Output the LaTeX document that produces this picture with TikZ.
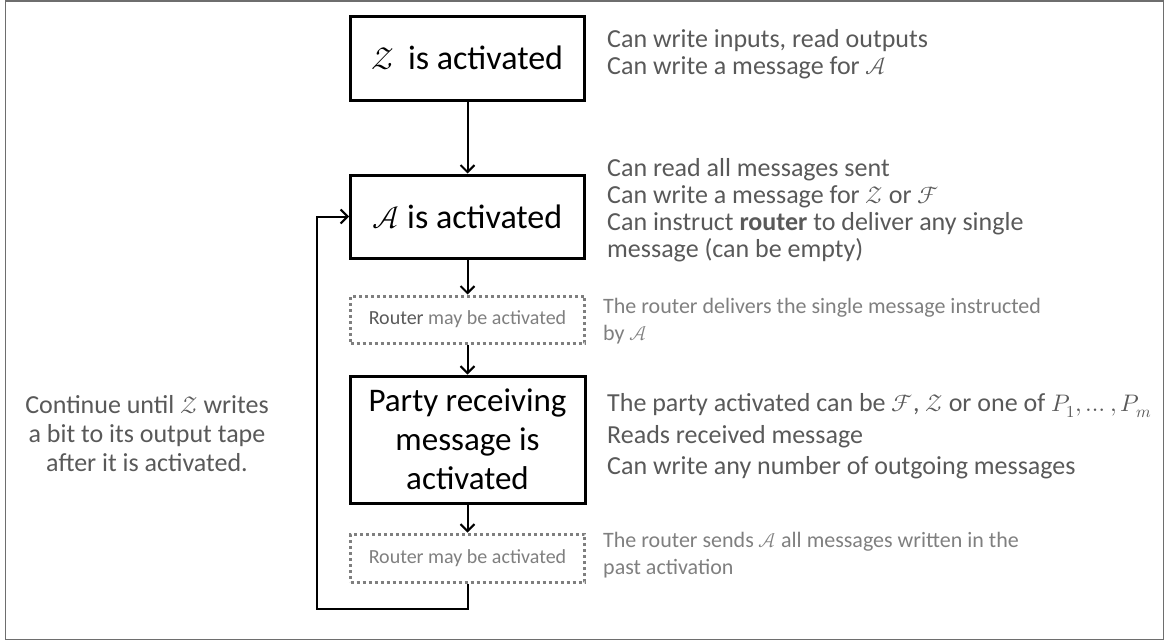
\documentclass[tikz,border=0pt]{standalone}
\usepackage{fontspec}
\usepackage{unicode-math}
\setmainfont{Carlito}
\setmathfont{latinmodern-math.otf}[Scale=0.92]
\usetikzlibrary{arrows.meta}
\definecolor{txtdark}{RGB}{89,89,89}
\definecolor{txtlight}{RGB}{127,127,127}
\definecolor{framegray}{RGB}{110,110,110}
\begin{document}
\begin{tikzpicture}[x=1pt,y=-1pt,
 mainbox/.style={draw=black, line width=3pt, minimum width=234pt, inner sep=0pt, align=center, font=\fontsize{34}{40}\selectfont},
 routerbox/.style={draw=txtlight, line width=3pt, dash pattern=on 3pt off 3pt, minimum width=234pt, minimum height=47pt, inner sep=0pt, text=txtlight, font=\fontsize{20}{24}\selectfont},
 flow/.style={draw=black, line width=2pt, -{Straight Barb[length=7pt,width=14pt]}},
 note/.style={anchor=west, align=left, inner sep=0pt, text=txtdark, font=\fontsize{26}{27}\selectfont},
 smallnote/.style={anchor=west, align=left, inner sep=0pt, text=txtlight, font=\fontsize{22}{27}\selectfont},
]
\useasboundingbox (0,0) rectangle (1165,640);
\draw[framegray, line width=1.5pt] (5.5,0.75) rectangle (1163.25,639.25);

\node[mainbox, minimum height=84pt] (Z) at (467.5,58) {$\mathcal{Z}$\, is activated};
\node[mainbox, minimum height=83pt] (A) at (467.5,216.5) {$\mathcal{A}$ is activated};
\node[routerbox] (R1) at (467.5,319.5) {\textcolor{txtdark}{Router} may be activated};
\node[mainbox, minimum width=235pt, minimum height=127pt, font=\fontsize{33}{39}\selectfont] (P) at (467.5,439.5) {Party receiving\\message is\\activated};
\node[routerbox, minimum height=48pt] (R2) at (467.5,558) {Router may be activated};

\draw[flow] (Z) -- (A);
\draw[flow] (A) -- (R1);
\draw[flow] (R1) -- (P);
\draw[flow] (P) -- (R2);
\coordinate (lb) at (317,609);
\draw[flow] (R2.south) |- (lb) |- (A.west);

\node[note] (tz) at (607,54) {Can write inputs, read outputs\\Can write a message for $\mathcal{A}$};
\node[note] (ta) at (607,210) {Can read all messages sent\\Can write a message for $\mathcal{Z}$ or $\mathcal{F}$\\Can instruct \textbf{router} to deliver any single\\message (can be empty)};
\node[smallnote] (tr1) at (603,321.5) {The router delivers the single message instructed\\by $\mathcal{A}$};
\node[note, font=\fontsize{26}{31.5}\selectfont] (tp) at (607,436.5) {The party activated can be $\mathcal{F}$, $\mathcal{Z}$ or one of $P_1, \dots, P_m$\\Reads received message\\Can write any number of outgoing messages};
\node[smallnote] (tr2) at (603,555) {The router sends $\mathcal{A}$ all messages written in the\\past activation};
\node[note, anchor=center, align=center, font=\fontsize{26}{29}\selectfont] (tl) at (147,434) {Continue until $\mathcal{Z}$ writes\\a bit to its output tape\\after it is activated.};
\end{tikzpicture}
\end{document}
